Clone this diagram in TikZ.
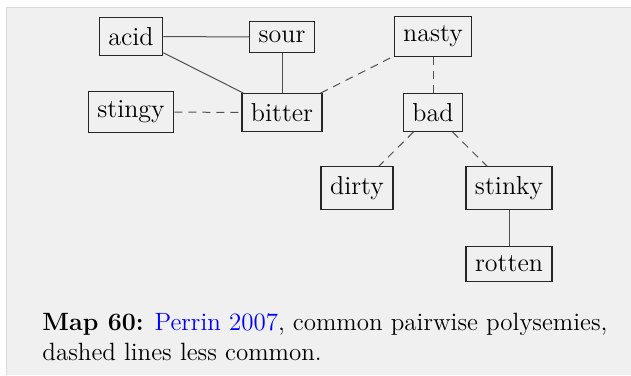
\documentclass[tikz,border=0pt]{standalone}
\usepackage{xcolor}
\usetikzlibrary{calc}

\definecolor{panelfill}{HTML}{F0F0F0}
\definecolor{panelrule}{HTML}{DADADA}
\definecolor{linkgray}{HTML}{505050}

\tikzset{
    word/.style={draw=black!85, line width=0.65pt, fill=panelfill,
        inner xsep=4.5pt, inner ysep=4.8pt, font=\fontsize{13}{15}\selectfont},
    common/.style={draw=linkgray, line width=0.5pt},
    rare/.style={draw=linkgray, line width=0.5pt, dash pattern=on 4pt off 3pt}
}

\begin{document}
\begin{tikzpicture}[x=0.5pt, y=-0.5pt]

    % ==========================================
    % 1. PANEL
    % ==========================================
    \useasboundingbox (0, 0) rectangle (631, 375);
    \fill[panelfill] (6, 7) rectangle (631, 375);
    \draw[panelrule, line width=0.6pt] (6.5, 375) -- (6.5, 7.5) -- (631, 7.5);

    % ==========================================
    % 2. WORDS
    % ==========================================
    \node[word] (acid)   at (131, 36.5)  {acid};
    \node[word] (sour)   at (282, 37)    {sour};
    \node[word] (stingy) at (131, 112)   {stingy};
    \node[word] (bitter) at (282, 112.5) {bitter};
    \node[word] (nasty)  at (433, 36.5)  {nasty};
    \node[word] (bad)    at (433, 112.5) {bad};
    \node[word] (dirty)  at (357, 188)   {dirty};
    \node[word] (stinky) at (509, 188)   {stinky};
    \node[word] (rotten) at (509, 264)   {rotten};

    % ==========================================
    % 3. POLYSEMIES (solid = common, dashed = less common)
    % ==========================================
    \draw[common] (acid) -- (sour);
    \draw[common] (acid) -- (bitter);
    \draw[common] (sour) -- (bitter);
    \draw[common] (stinky) -- (rotten);

    \draw[rare] (stingy) -- (bitter);
    \draw[rare] (bitter) -- (nasty);
    \draw[rare] (nasty) -- (bad);
    \draw[rare] (bad) -- (dirty);
    \draw[rare] (bad) -- (stinky);

    % ==========================================
    % 4. CAPTION
    % ==========================================
    \node[anchor=north west, inner sep=0pt, align=left,
          font=\fontsize{12.5}{14.75}\selectfont] (caption) at (42, 313)
        {\textbf{Map 60:} \textcolor{blue}{Perrin 2007}, common pairwise polysemies,\\
         dashed lines less common.};

\end{tikzpicture}
\end{document}
